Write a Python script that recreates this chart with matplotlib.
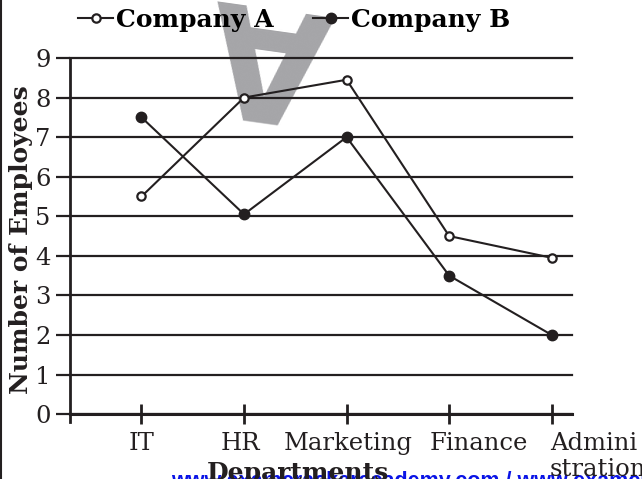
import matplotlib
matplotlib.use('Agg')
import matplotlib.pyplot as plt
import matplotlib.transforms as mtransforms
from matplotlib.lines import Line2D

# data
departments = ['IT', 'HR', 'Marketing', 'Finance', 'Admini\nstration']
company_a = [5.5, 8.0, 8.45, 4.5, 3.95]
company_b = [7.5, 5.05, 7.0, 3.5, 2.0]
y_ticks = [0, 1, 2, 3, 4, 5, 6, 7, 8, 9]

ink = '#231f20'
plt.rcParams['font.family'] = 'DejaVu Serif'

fig = plt.figure(figsize=(6.42, 4.79), dpi=100)
ax = fig.add_axes([69.5/642, 1-422/479, (572-69.5)/642, (422-58)/479])

x = list(range(1, len(departments) + 1))
ax.plot(x, company_a, color=ink, lw=1.5, marker='o', ms=6, mfc='white',
        mec=ink, mew=1.6, label='Company A', zorder=3)
ax.plot(x, company_b, color=ink, lw=1.5, marker='o', ms=7.5, mfc=ink,
        mec=ink, label='Company B', zorder=3)

ax.set_xlim(0.298, 5.198)
ax.set_ylim(-0.2, 9)
ax.set_yticks(y_ticks)
ax.set_xticks(x)
ax.set_xticklabels(departments)
ax.grid(axis='y', color=ink, lw=1.6)
ax.grid(axis='x', visible=False)
for gl in ax.get_ygridlines():
    gl.set_clip_on(False)

for s in ['top', 'right']:
    ax.spines[s].set_visible(False)
ax.spines['bottom'].set_position(('data', 0))
ax.spines['bottom'].set_linewidth(2.2)
ax.spines['left'].set_linewidth(2.0)
ax.spines['bottom'].set_color(ink)
ax.spines['left'].set_color(ink)

ax.tick_params(axis='y', length=10, width=1.6, pad=3.6, labelsize=17.5,
               color=ink, labelcolor=ink)
ax.tick_params(axis='x', direction='inout', length=14.5, width=2, pad=5.5,
               labelsize=17.5, color=ink, labelcolor=ink)

# nudge x labels like the original typesetting
offsets = [0, -4, 2, 30, -2]
for lab, dx in zip(ax.get_xticklabels(), offsets):
    lab.set_transform(lab.get_transform() +
                      mtransforms.ScaledTranslation(dx/100, 0, fig.dpi_scale_trans))
last = ax.get_xticklabels()[-1]
last.set_ha('left')
last.set_multialignment('left')

ax.set_ylabel('Number of Employees', fontsize=18, fontweight='bold', color=ink)
ax.yaxis.set_label_coords((21.5-69.5)/502.5, 0.5)
ax.yaxis.label.set_va('center')

ax.set_xlabel('Departments', fontsize=18, fontweight='bold', color=ink)
ax.xaxis.set_label_coords((297.5-69.5)/502.5, (422-461)/364)
ax.xaxis.label.set_va('top')

fig.legend(loc='center left', bbox_to_anchor=(78/642, 1-20/479), ncol=2,
           frameon=False, handlelength=1.4, handletextpad=0.1, columnspacing=1.6,
           borderpad=0, borderaxespad=0, prop=dict(weight='bold', size=18))

# watermark and footer
ax.text(270/642, 1-50/479, 'A', transform=fig.transFigure, rotation=172,
        fontsize=112, fontweight='bold', family='DejaVu Sans', color='#a5a5a8',
        ha='center', va='center', zorder=0.5, clip_on=False)
fig.text(171/642, 1-487/479, 'www.examcrackeracademy.com / www.examcracker.com',
         color='#0a14e6', family='Liberation Sans', fontweight='bold', fontsize=15.5,
         va='baseline', zorder=-1)
fig.add_artist(Line2D([1.5/642, 1.5/642], [0, 1], transform=fig.transFigure,
                      color=ink, lw=1.5))

fig.savefig('out.png', dpi=100)
